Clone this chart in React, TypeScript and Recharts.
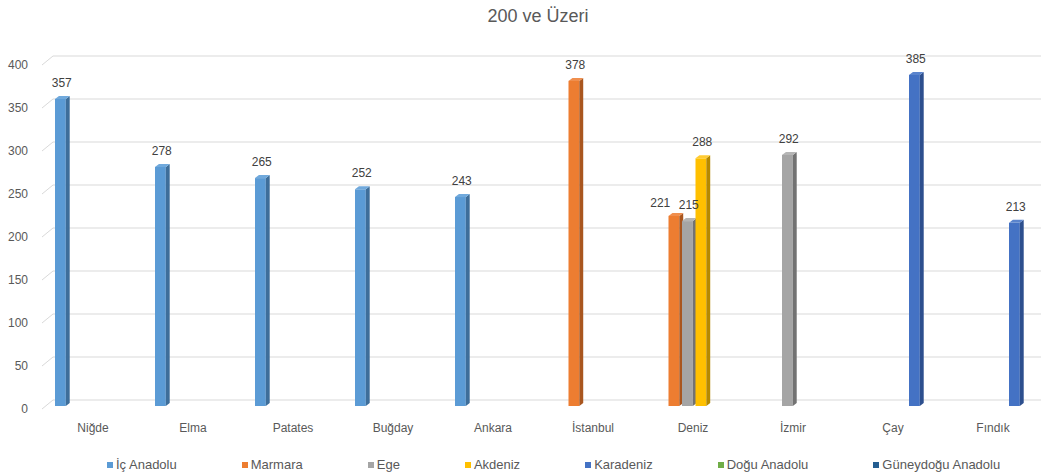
import React from 'react';
import { BarChart, Bar, XAxis, YAxis, CartesianGrid, Legend, LabelList } from 'recharts';

// Product categories along the x axis
const categories = ['Niğde', 'Elma', 'Patates', 'Buğday', 'Ankara', 'İstanbul', 'Deniz', 'İzmir', 'Çay', 'Fındık'];

// Values per region (null = no bar)
const icAnadolu = [357, 278, 265, 252, 243, null, null, null, null, null];
const marmara = [null, null, null, null, null, 378, 221, null, null, null];
const ege = [null, null, null, null, null, null, 215, 292, null, null];
const akdeniz = [null, null, null, null, null, null, 288, null, null, null];
const karadeniz = [null, null, null, null, null, null, null, null, 385, 213];
const doguAnadolu = [null, null, null, null, null, null, null, null, null, null];
const guneydoguAnadolu = [null, null, null, null, null, null, null, null, null, null];

const yTicks = [0, 50, 100, 150, 200, 250, 300, 350, 400];

const seriesNames = ['İç Anadolu', 'Marmara', 'Ege', 'Akdeniz', 'Karadeniz', 'Doğu Anadolu', 'Güneydoğu Anadolu'];
const seriesValues: (number | null)[][] = [icAnadolu, marmara, ege, akdeniz, karadeniz, doguAnadolu, guneydoguAnadolu];
const keys = ['s0', 's1', 's2', 's3', 's4', 's5', 's6'];

// Front, side and top face colours for the 3D columns
const fronts = ['#5B9BD5', '#ED7D31', '#A5A5A5', '#FFC000', '#4472C4', '#70AD47', '#255E91'];
const sides = ['#3E6E9A', '#A9561F', '#727272', '#B58900', '#2D4F8E', '#4E7A31', '#17405F'];
const tops = ['#70A9DC', '#F08F4E', '#B5B5B5', '#FFCB33', '#5A84CD', '#83BA5E', '#3A719F'];

const data = categories.map((name, i) => {
  const row: Record<string, any> = { name };
  seriesValues.forEach((vals, s) => {
    row[keys[s]] = vals[i];
  });
  return row;
});

const FONT = '"Liberation Sans", Arial, sans-serif';
const TEXT = '#595959';

const makeShape = (s: number) => (props: any) => {
  const { x, y, width, height } = props;
  if (height == null || height <= 0 || !isFinite(y)) return null;
  const fw = width * 0.8;
  const sw = width * 0.29;
  const d = 3;
  return (
    <g>
      <rect x={x} y={y} width={fw} height={height} fill={fronts[s]} />
      <polygon
        points={`${x + fw},${y} ${x + fw + sw},${y - d} ${x + fw + sw},${y + height - d} ${x + fw},${y + height}`}
        fill={sides[s]}
      />
      <polygon
        points={`${x},${y} ${x + sw},${y - d} ${x + fw + sw},${y - d} ${x + fw},${y}`}
        fill={tops[s]}
      />
    </g>
  );
};

const makeLabel = (s: number) => (props: any) => {
  const { x, y, width, value } = props;
  if (value == null) return null;
  const v = Number(value);
  const idx = seriesValues[s].indexOf(v);
  // nudge left when the neighbouring column's label would collide
  const next = idx >= 0 ? seriesValues[s + 1]?.[idx] : null;
  const dx = next != null && Math.abs(next - v) < 20 ? -15 : 0;
  const dy = next != null && Math.abs(next - v) < 20 ? 3 : 0;
  return (
    <text
      x={x + width / 2 + dx}
      y={y - 12 + dy}
      textAnchor="middle"
      fontSize={12}
      fontFamily={FONT}
      fill="#404040"
    >
      {value}
    </text>
  );
};

const gridLine = (props: any) => {
  const { x1, x2, y1, index } = props;
  return (
    <path
      key={`grid-${index}`}
      d={`M${x1 - 10},${y1 + 3} L${x1 + 1},${y1 - 6} L${x2},${y1 - 6}`}
      stroke="#D9D9D9"
      strokeWidth={1}
      fill="none"
    />
  );
};

const XTick = (props: any) => {
  const { x, y, payload } = props;
  return (
    <text x={x - 9} y={y + 26} textAnchor="middle" fontSize={12} fontFamily={FONT} fill={TEXT}>
      {payload.value}
    </text>
  );
};

const YTick = (props: any) => {
  const { y, payload } = props;
  return (
    <text x={28} y={y + 7} textAnchor="end" fontSize={12} fontFamily={FONT} fill={TEXT}>
      {payload.value}
    </text>
  );
};

const renderLegend = (props: any) => {
  const items = [...(props.payload || [])].sort(
    (a: any, b: any) => seriesNames.indexOf(a.value) - seriesNames.indexOf(b.value)
  );
  return (
    <div style={{ display: 'flex', paddingLeft: 107, gap: 65, fontFamily: FONT, fontSize: 13, color: TEXT, lineHeight: '16px' }}>
      {items.map((item: any, i: number) => (
        <div key={i} style={{ display: 'flex', alignItems: 'center', whiteSpace: 'nowrap' }}>
          <span style={{ display: 'inline-block', width: 6, height: 6, background: item.color, marginRight: 3 }} />
          <span>{item.value}</span>
        </div>
      ))}
    </div>
  );
};

export default function App() {
  return (
    <div style={{ position: 'absolute', left: 0, top: 0, width: 1041, height: 474, overflow: 'hidden', background: '#fff' }}>
      <div
        style={{
          position: 'absolute',
          left: 538,
          top: 6,
          transform: 'translateX(-50%)',
          fontFamily: FONT,
          fontSize: 18,
          color: TEXT,
          whiteSpace: 'nowrap',
        }}
      >
        200 ve Üzeri
      </div>
      <BarChart
        width={1052}
        height={474}
        data={data}
        margin={{ top: 62, right: 0, bottom: 38, left: 0 }}
        barSize={13.5}
        barGap={0}
      >
        <CartesianGrid vertical={false} horizontal={gridLine} />
        <XAxis dataKey="name" height={30} axisLine={false} tickLine={false} tickSize={0} tickMargin={0} tick={<XTick />} interval={0} />
        <YAxis
          domain={[0, 400]}
          ticks={yTicks}
          width={52}
          axisLine={false}
          tickLine={false}
          tick={<YTick />}
          interval={0}
        />
        <Legend
          layout="horizontal"
          verticalAlign="middle"
          align="center"
          itemSorter={null as any}
          wrapperStyle={{ top: 457, left: 0, width: 1041 }}
          content={renderLegend}
        />
        {keys.map((k, s) => (
          <Bar key={k} dataKey={k} name={seriesNames[s]} fill={fronts[s]} shape={makeShape(s)} isAnimationActive={false}>
            <LabelList dataKey={k} content={makeLabel(s)} />
          </Bar>
        ))}
      </BarChart>
    </div>
  );
}
